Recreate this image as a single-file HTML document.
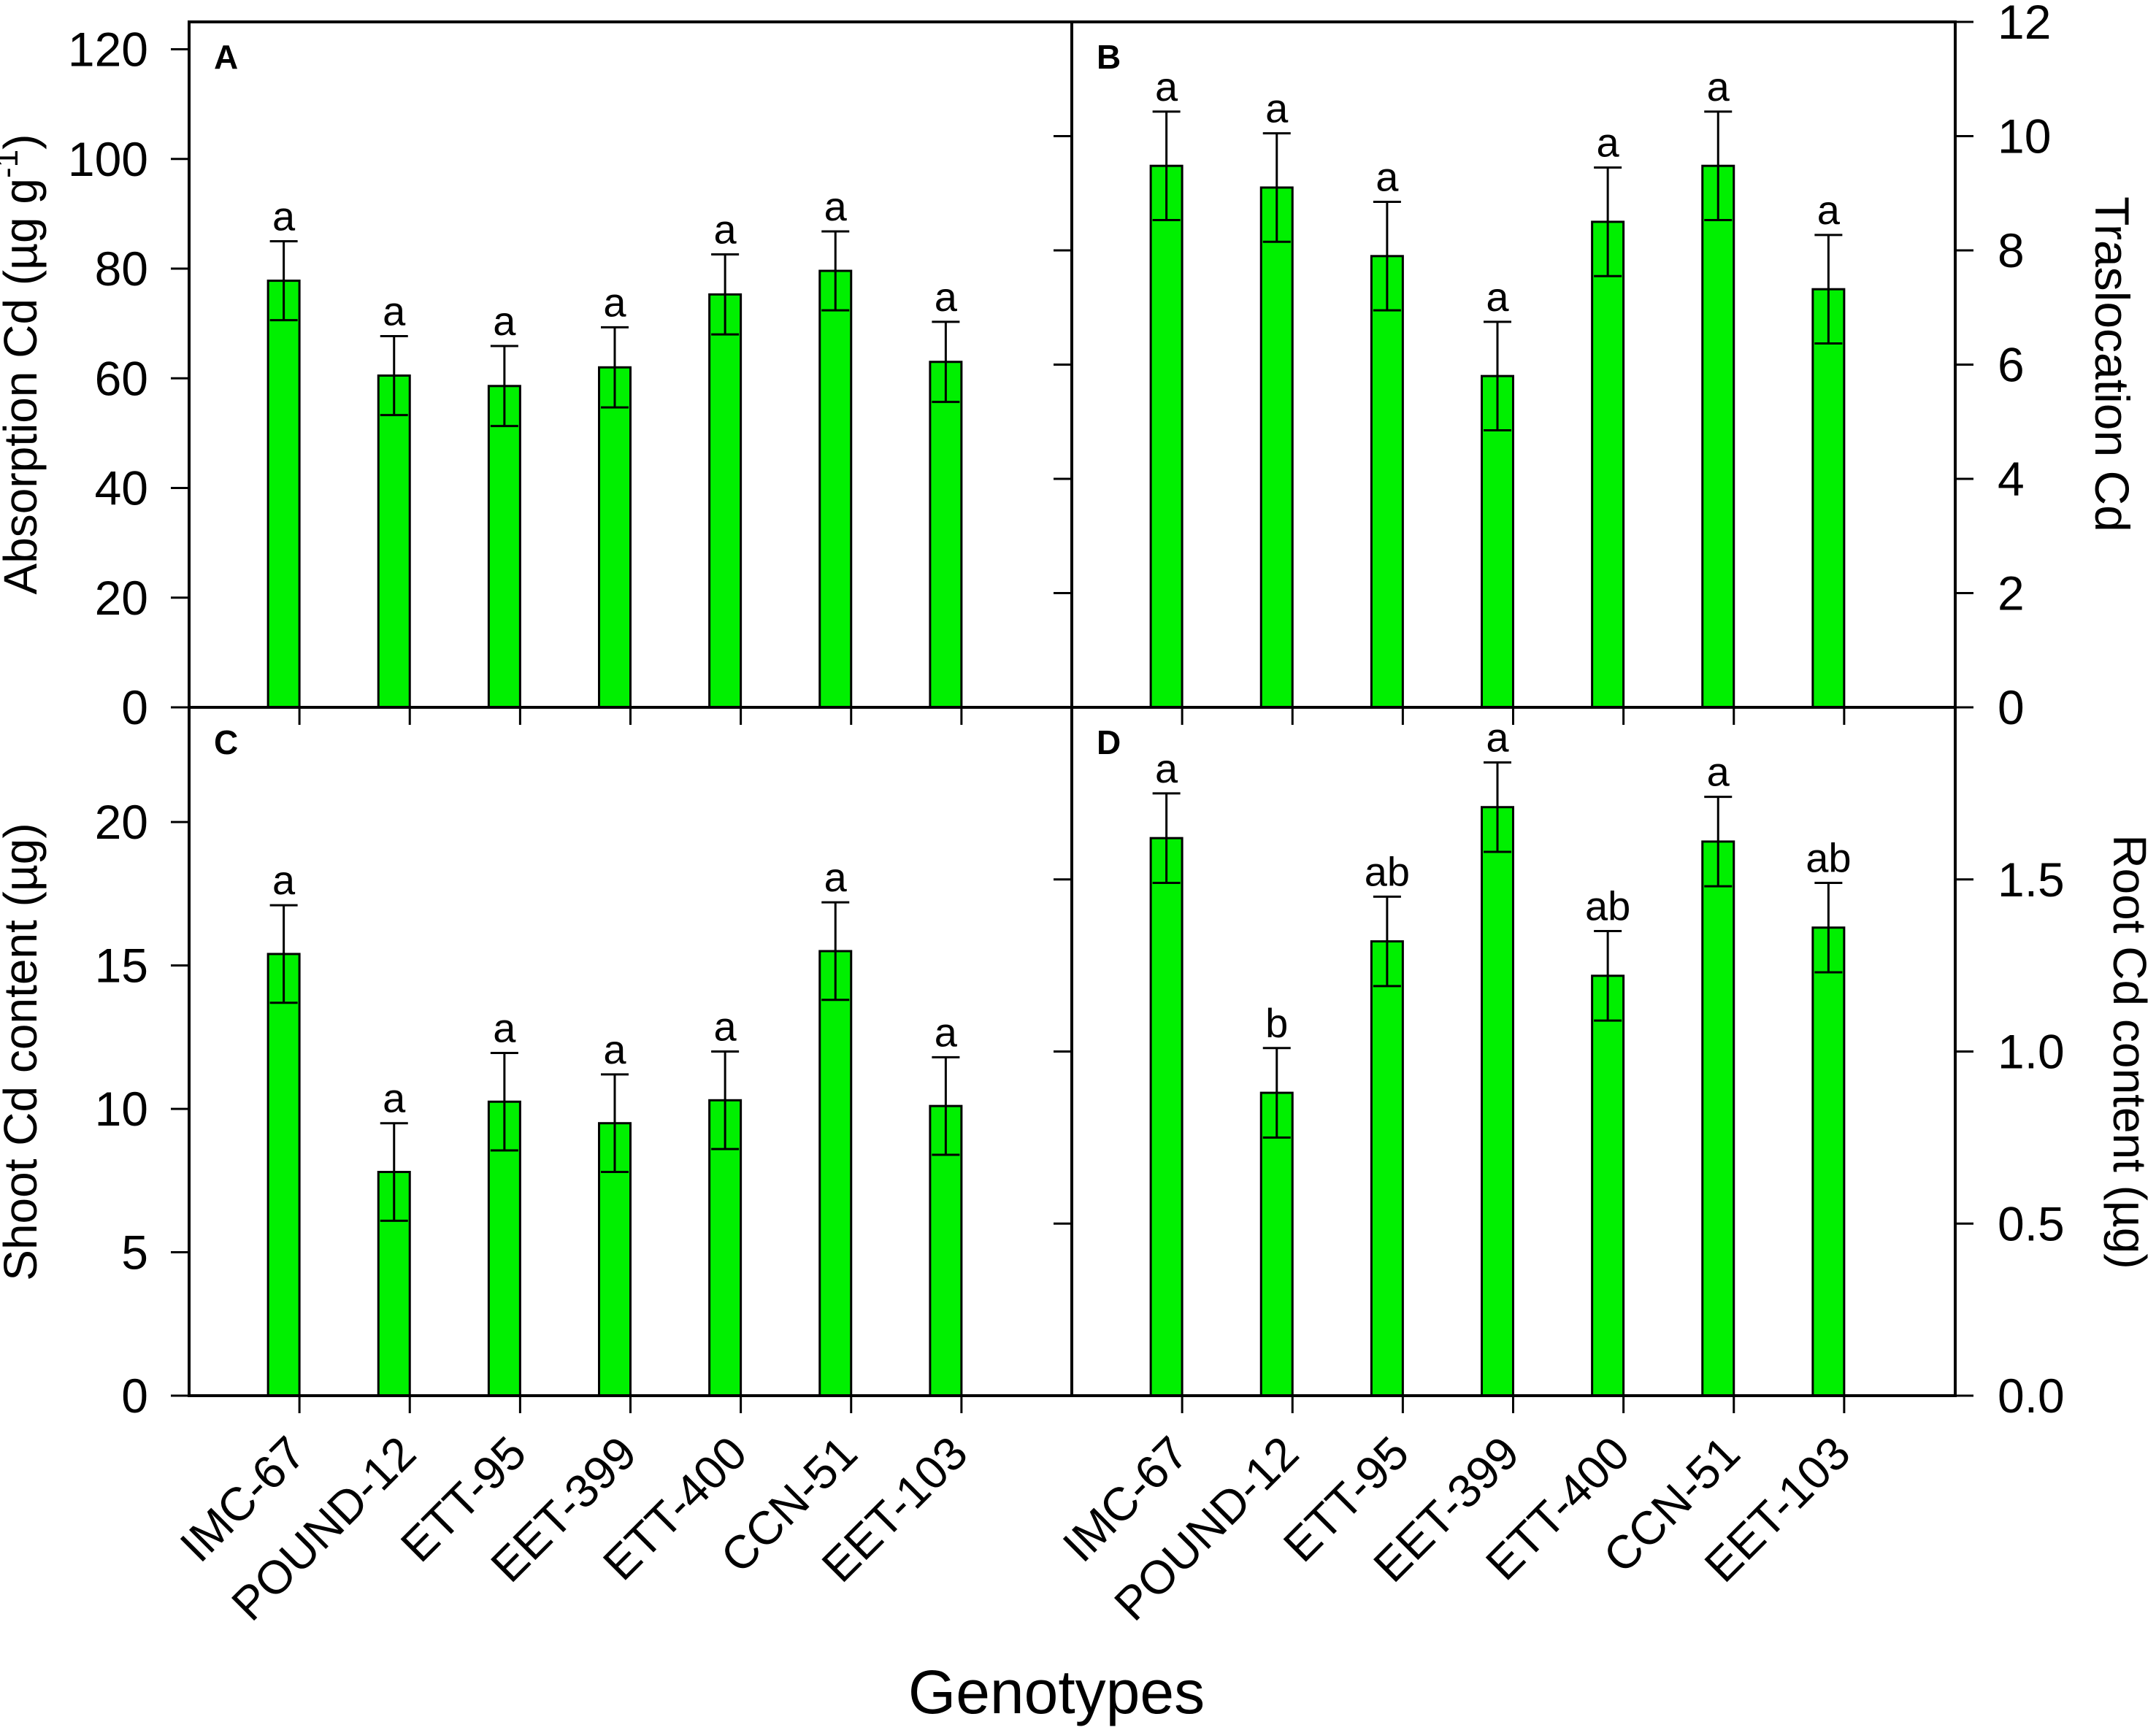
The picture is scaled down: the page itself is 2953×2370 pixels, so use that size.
<!DOCTYPE html>
<html><head><meta charset="utf-8"><title>Cd genotypes chart</title>
<style>
html,body{margin:0;padding:0;background:#fff;}
svg{display:block;font-family:"Liberation Sans",Arial,sans-serif;}
</style></head>
<body>
<svg id="chart" width="2953" height="2370" viewBox="0 0 2953 2370" xmlns="http://www.w3.org/2000/svg"></svg>
<script>
const categories = ["IMC-67","POUND-12","ETT-95","EET-399","ETT-400","CCN-51","EET-103"];
const absorptionValues = [77.8, 60.5, 58.6, 62.0, 75.3, 79.6, 63.0];
const absorptionErrors = [7.2, 7.2, 7.3, 7.3, 7.3, 7.2, 7.3];
const absorptionLetters = ["a","a","a","a","a","a","a"];
const translocationValues = [9.48, 9.1, 7.9, 5.8, 8.5, 9.48, 7.32];
const translocationErrors = [0.95, 0.95, 0.95, 0.95, 0.95, 0.95, 0.95];
const translocationLetters = ["a","a","a","a","a","a","a"];
const shootValues = [15.4, 7.8, 10.25, 9.5, 10.3, 15.5, 10.1];
const shootErrors = [1.7, 1.7, 1.7, 1.7, 1.7, 1.7, 1.7];
const shootLetters = ["a","a","a","a","a","a","a"];
const rootValues = [1.62, 0.88, 1.32, 1.71, 1.22, 1.61, 1.36];
const rootErrors = [0.13, 0.13, 0.13, 0.13, 0.13, 0.13, 0.13];
const rootLetters = ["a","b","ab","a","ab","a","ab"];
const ticksA = [0,20,40,60,80,100,120];
const ticksB = [0,2,4,6,8,10,12];
const ticksC = [0,5,10,15,20];
const ticksD = [0.0,0.5,1.0,1.5];
const tickLabelsD = ["0.0","0.5","1.0","1.5"];

const NS = "http://www.w3.org/2000/svg";
const svg = document.getElementById("chart");
function mk(tag, attrs, parent){
  const e = document.createElementNS(NS, tag);
  for (const k in attrs) e.setAttribute(k, attrs[k]);
  (parent||svg).appendChild(e);
  return e;
}
const L = 259, M = 1468, R = 2678, T = 30, MID = 969, B = 1912;
const PW = M - L;
function xScale(i, left){ return left + PW * (i + 1) / 8; }

const panels = [
  {id:"A", left:L, top:T, bottom:MID, max:125, vals:absorptionValues, errs:absorptionErrors, letters:absorptionLetters, ticks:ticksA, labels:null, side:"left"},
  {id:"B", left:M, top:T, bottom:MID, max:12, vals:translocationValues, errs:translocationErrors, letters:translocationLetters, ticks:ticksB, labels:null, side:"right"},
  {id:"C", left:L, top:MID, bottom:B, max:24, vals:shootValues, errs:shootErrors, letters:shootLetters, ticks:ticksC, labels:null, side:"left"},
  {id:"D", left:M, top:MID, bottom:B, max:2, vals:rootValues, errs:rootErrors, letters:rootLetters, ticks:ticksD, labels:tickLabelsD, side:"right"}
];

panels.forEach(p => {
  const g = mk("g", {});
  
  
  const y = v => p.bottom - (p.bottom - p.top) * v / p.max;
  p.vals.forEach((v, i) => {
    const tx = xScale(i, p.left);
    const bar = mk("rect", {x: tx - 43, y: y(v), width: 43, height: p.bottom - y(v), fill: "#00f000", stroke: "#000", "stroke-width": 3}, g);
    
    
    const cx = tx - 21.5;
    const e = p.errs[i];
    const eb = mk("path", {d: `M${cx},${y(v - e)}V${y(v + e)}M${cx - 19},${y(v + e)}H${cx + 19}M${cx - 19},${y(v - e)}H${cx + 19}`, stroke: "#000", "stroke-width": 3, fill: "none"}, g);
    
    
    const lt = mk("text", {x: cx, y: y(v + e) - 15, "text-anchor": "middle", "font-size": 56}, g);
    lt.textContent = p.letters[i];
    
    
    const tk = mk("line", {x1: tx, x2: tx, y1: p.bottom, y2: p.bottom + 24, stroke: "#000", "stroke-width": 3}, g);
    
    
  });
  p.ticks.forEach((t, k) => {
    const yy = y(t);
    if (p.side === "left") {
      const tl = mk("line", {x1: L - 25, x2: L, y1: yy, y2: yy, stroke: "#000", "stroke-width": 3}, g);
      
      
      const tt = mk("text", {x: 203, y: yy + 23, "text-anchor": "end", "font-size": 66}, g);
      tt.textContent = p.labels ? p.labels[k] : String(t);
      
      
    } else {
      const tl = mk("line", {x1: R, x2: R + 25, y1: yy, y2: yy, stroke: "#000", "stroke-width": 3}, g);
      
      
      if (t > 0) {
        const il = mk("line", {x1: M - 25, x2: M, y1: yy, y2: yy, stroke: "#000", "stroke-width": 3}, g);
        
        
      }
      const tt = mk("text", {x: 2736, y: yy + 23, "text-anchor": "start", "font-size": 66}, g);
      tt.textContent = p.labels ? p.labels[k] : String(t);
      
      
    }
  });
  const pl = mk("text", {x: p.left + 34, y: p.top + 64, "font-size": 46, "font-weight": "bold"}, g);
  pl.textContent = p.id;
  
  
});

const frame = mk("path", {d: `M${L},${T}H${R}V${B}H${L}Z M${M},${T}V${B} M${L},${MID}H${R}`, stroke: "#000", "stroke-width": 4, fill: "none"});



[L, M].forEach(left => {
  categories.forEach((c, i) => {
    const tx = xScale(i, left) + 12;
    const ty = 1995;
    const t = mk("text", {x: tx, y: ty, "text-anchor": "end", "font-size": 64, transform: `rotate(-45 ${tx} ${ty})`});
    t.textContent = c;
    
    
  });
});

function title(txt, x, y, rot, name, size){
  const t = mk("text", {x: x, y: y, "text-anchor": "middle", "font-size": size, transform: `rotate(${rot} ${x} ${y})`});
  t.innerHTML = txt;
  
  
  return t;
}
title('Absorption Cd (µg g<tspan dy="-26" font-size="44">-1</tspan><tspan dy="26">)</tspan>', 50, 499, -90, "y-axis-title-absorption", 64);
title('Shoot  Cd content (µg)', 50, 1441, -90, "y-axis-title-shoot", 64);
title('Traslocation Cd', 2870, 499, 90, "y-axis-title-translocation", 66);
title('Root Cd content (µg)', 2895, 1441, 90, "y-axis-title-root", 64);
const gx = mk("text", {x: 1447, y: 2347, "text-anchor": "middle", "font-size": 84});
gx.textContent = "Genotypes";


</script>
</body></html>
